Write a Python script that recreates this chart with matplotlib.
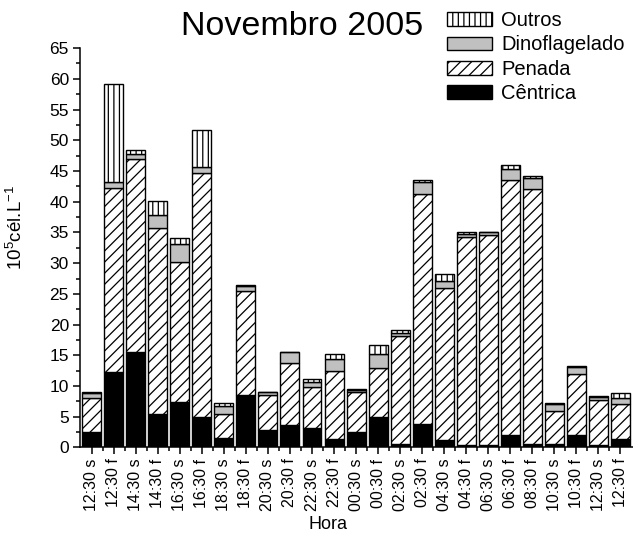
import matplotlib
matplotlib.use("Agg")

import numpy as np
import matplotlib.pyplot as plt
from matplotlib.ticker import MultipleLocator, FixedLocator

plt.rcParams['font.family'] = ['Liberation Sans', 'DejaVu Sans']
plt.rcParams['mathtext.fontset'] = 'custom'
plt.rcParams['mathtext.rm'] = 'Liberation Sans'
plt.rcParams['mathtext.it'] = 'Liberation Sans'
plt.rcParams['hatch.linewidth'] = 0.9

# sampling times (s = surface, f = bottom)
horas = ["12:30 s", "12:30 f", "14:30 s", "14:30 f", "16:30 s", "16:30 f",
         "18:30 s", "18:30 f", "20:30 s", "20:30 f", "22:30 s", "22:30 f",
         "00:30 s", "00:30 f", "02:30 s", "02:30 f", "04:30 s", "04:30 f",
         "06:30 s", "06:30 f", "08:30 f", "10:30 s", "10:30 f", "12:30 s",
         "12:30 f"]

# densities, 10^5 cells per litre
centrica = [2.6, 12.3, 15.6, 5.4, 7.4, 4.9, 1.6, 8.6, 2.8, 3.7, 3.2, 1.4, 2.5,
            4.9, 0.5, 3.9, 1.3, 0.4, 0.4, 2.0, 0.5, 0.5, 2.1, 0.4, 1.4]
penada = [5.5, 29.9, 31.3, 30.3, 22.8, 39.7, 3.9, 16.9, 5.8, 10.1, 6.7, 11.0,
          6.5, 8.0, 17.6, 37.4, 24.7, 33.9, 34.2, 41.5, 41.5, 5.5, 9.9, 7.4, 5.7]
dinoflagelado = [0.7, 1.0, 0.8, 2.2, 2.9, 1.1, 1.3, 0.7, 0.4, 1.7, 0.7, 2.0,
                 0.4, 2.3, 0.6, 1.9, 1.1, 0.5, 0.4, 1.8, 1.9, 1.0, 1.1, 0.4, 0.9]
outros = [0.3, 15.9, 0.7, 2.2, 1.0, 6.0, 0.5, 0.2, 0.1, 0.1, 0.6, 0.8, 0.1,
          1.5, 0.4, 0.3, 1.1, 0.2, 0.1, 0.6, 0.2, 0.2, 0.2, 0.1, 0.8]

x = np.arange(len(horas))
w = 0.86

fig = plt.figure(figsize=(6.33, 5.34), dpi=100)
ax = fig.add_axes([0.1264, 0.162, 0.8736, 0.748])

kw = dict(width=w, edgecolor='black', linewidth=1.0)
bottom = np.zeros(len(horas))
b_c = ax.bar(x, centrica, bottom=bottom, color='black', **kw)
bottom += centrica
b_p = ax.bar(x, penada, bottom=bottom, color='white', hatch='///', **kw)
bottom += penada
b_d = ax.bar(x, dinoflagelado, bottom=bottom, color='#c0c0c0', **kw)
bottom += dinoflagelado
b_o = ax.bar(x, outros, bottom=bottom, color='white', hatch='|||', **kw)

ax.set_xlim(-0.53, 24.57)
ax.set_ylim(0, 65)

for s in ['top', 'right']:
    ax.spines[s].set_visible(False)
ax.spines['left'].set_linewidth(1.1)
ax.spines['bottom'].set_linewidth(1.1)

ax.yaxis.set_major_locator(MultipleLocator(5))
ax.yaxis.set_minor_locator(MultipleLocator(2.5))
ax.set_xticks(x)
ax.set_xticklabels(horas, rotation=90, fontsize=11.5)
ax.xaxis.set_minor_locator(FixedLocator(x[:-1] + 0.5))
ax.tick_params(axis='both', which='major', direction='out', length=5,
               width=1.1, pad=3)
ax.tick_params(axis='y', which='major', labelsize=12.5)
ax.tick_params(axis='both', which='minor', direction='out', length=3, width=1.1)

ax.set_ylabel(r'10$^5$cél.L$^{-1}$', fontsize=13.5)
ax.yaxis.set_label_coords(-0.098, 0.552)
ax.set_xlabel('Hora', fontsize=13)
ax.xaxis.set_label_coords(0.448, -0.171)

fig.text(0.478, 1 - 35 / 534, 'Novembro 2005', fontsize=24.5,
         ha='center', va='baseline')

fig.legend([b_o, b_d, b_p, b_c],
           ['Outros', 'Dinoflagelado', 'Penada', 'Cêntrica'],
           loc='upper left', bbox_to_anchor=(447 / 633, 1 - 11 / 534),
           frameon=False, fontsize=14.5, borderpad=0, borderaxespad=0,
           handlelength=2.25, handleheight=0.66, handletextpad=0.45,
           labelspacing=0.27)

fig.savefig('out.png', dpi=100)
